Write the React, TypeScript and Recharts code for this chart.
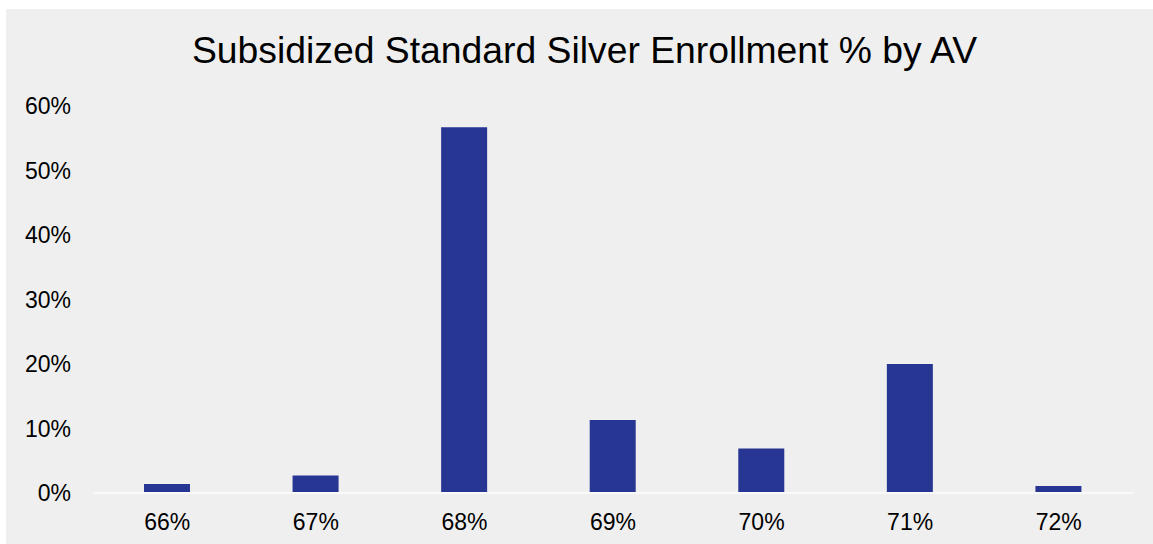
import React from 'react';
import { BarChart, Bar, XAxis, YAxis } from 'recharts';

const avLevels = ['66%', '67%', '68%', '69%', '70%', '71%', '72%'];
const enrollmentPct = [1.4, 2.7, 56.7, 11.3, 6.9, 20.0, 1.1];
const yTicks = [0, 10, 20, 30, 40, 50, 60];

const data = avLevels.map((av, i) => ({ av, pct: enrollmentPct[i] }));

const font = 'Arial, "Liberation Sans", sans-serif';

const App: React.FC = () => {
  return (
    <div
      style={{
        position: 'absolute',
        left: 6,
        top: 9,
        width: 1147,
        height: 535,
        background: '#efefef',
        fontFamily: font,
      }}
    >
      <div
        style={{
          position: 'absolute',
          top: 22.7,
          left: 10,
          right: 0,
          textAlign: 'center',
          fontSize: 37.3,
          lineHeight: '37.3px',
          color: '#000',
          whiteSpace: 'nowrap',
        }}
      >
        Subsidized Standard Silver Enrollment % by AV
      </div>
      <BarChart
        width={1147}
        height={535}
        data={data}
        margin={{ top: 97, right: 20, bottom: 11, left: 0 }}
        barSize={46}
      >
        <XAxis
          dataKey="av"
          height={40}
          tickLine={false}
          tickSize={0}
          tickMargin={21}
          axisLine={{ stroke: '#f9f9f9', strokeWidth: 2 }}
          tick={{ fontSize: 23, fill: '#000', fontFamily: font }}
        />
        <YAxis
          width={87}
          domain={[0, 60]}
          ticks={yTicks}
          axisLine={false}
          tickLine={false}
          tickSize={0}
          tickMargin={22}
          tickFormatter={(v) => `${v}%`}
          tick={{ fontSize: 23, fill: '#000', fontFamily: font }}
        />
        <Bar dataKey="pct" fill="#273593" isAnimationActive={false} />
      </BarChart>
    </div>
  );
};

export default App;
